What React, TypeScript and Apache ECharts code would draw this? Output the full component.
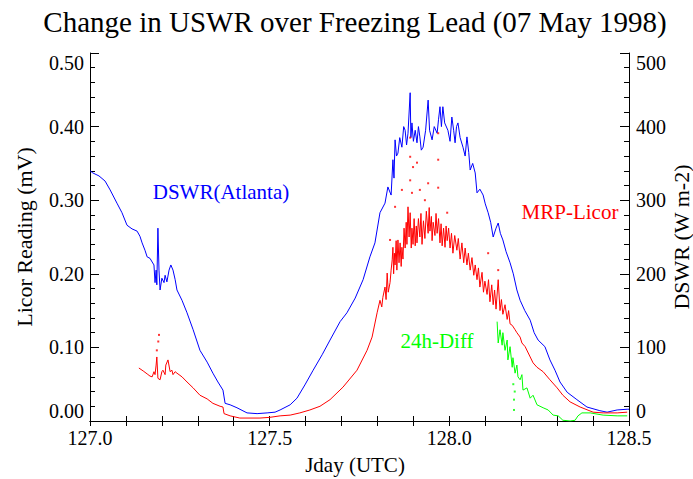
import React, { useEffect, useRef } from "react";
import * as echarts from "echarts";

// Jday (UTC), DSWR Atlanta (W m-2)
const dswrAtlanta: [number, number][] = [
  [127.0, 340], [127.008, 337], [127.025, 333], [127.042, 326], [127.056, 314], [127.075, 296],
  [127.089, 283], [127.103, 266], [127.117, 261], [127.131, 258], [127.139, 251], [127.145, 242],
  [127.153, 232], [127.159, 223], [127.167, 221], [127.173, 216], [127.178, 212], [127.181, 188],
  [127.184, 205], [127.186, 185], [127.189, 262], [127.192, 205], [127.195, 178], [127.2, 194],
  [127.206, 188], [127.209, 198], [127.214, 189], [127.22, 205], [127.225, 212], [127.231, 205],
  [127.237, 192], [127.242, 178], [127.256, 164], [127.27, 147], [127.287, 124], [127.306, 96],
  [127.326, 80], [127.342, 65], [127.356, 53], [127.37, 42], [127.376, 24], [127.39, 22],
  [127.409, 18], [127.437, 11], [127.465, 10], [127.493, 11], [127.515, 12], [127.529, 15],
  [127.557, 22], [127.576, 31], [127.598, 49], [127.621, 69], [127.646, 90], [127.668, 110],
  [127.696, 135], [127.715, 147], [127.738, 167], [127.76, 192], [127.779, 223], [127.793, 242],
  [127.807, 283], [127.821, 296], [127.829, 318], [127.838, 307], [127.843, 355], [127.846, 330],
  [127.849, 382], [127.853, 360], [127.857, 364], [127.862, 385], [127.868, 372], [127.873, 400],
  [127.877, 395], [127.881, 375], [127.885, 391], [127.891, 446], [127.893, 385], [127.896, 405],
  [127.9, 380], [127.905, 395], [127.91, 378], [127.914, 400], [127.918, 386], [127.922, 368],
  [127.927, 372], [127.934, 395], [127.941, 436], [127.945, 395], [127.952, 382], [127.958, 400],
  [127.966, 391], [127.97, 410], [127.974, 427], [127.978, 400], [127.982, 427], [127.987, 405],
  [127.996, 395], [128.002, 380], [128.007, 413], [128.012, 395], [128.016, 378], [128.02, 400],
  [128.024, 405], [128.03, 385], [128.038, 372], [128.044, 360], [128.049, 386], [128.054, 365],
  [128.058, 341], [128.065, 350], [128.072, 337], [128.077, 310], [128.085, 315], [128.094, 307],
  [128.1, 295], [128.108, 283], [128.115, 270], [128.122, 250], [128.13, 262], [128.136, 269],
  [128.142, 255], [128.149, 246], [128.158, 230], [128.169, 215], [128.178, 200], [128.188, 178],
  [128.197, 164], [128.21, 150], [128.225, 137], [128.236, 120], [128.247, 110], [128.266, 101],
  [128.28, 83], [128.294, 69], [128.308, 53], [128.328, 39], [128.355, 29], [128.383, 19],
  [128.419, 14], [128.439, 12], [128.467, 15], [128.495, 16], [128.5, 16],
];

// Jday (UTC), MRP-Licor reading (mV)
const mrpLicor: [number, number][] = [
  [127.136, 0.072], [127.148, 0.068], [127.159, 0.064], [127.167, 0.061], [127.173, 0.06],
  [127.178, 0.067], [127.181, 0.063], [127.184, 0.076], [127.186, 0.087], [127.189, 0.058],
  [127.195, 0.056], [127.2, 0.067], [127.203, 0.069], [127.209, 0.063], [127.211, 0.076],
  [127.217, 0.083], [127.223, 0.067], [127.228, 0.069], [127.231, 0.063], [127.237, 0.067],
  [127.242, 0.065], [127.256, 0.06], [127.27, 0.053], [127.287, 0.045], [127.306, 0.035],
  [127.326, 0.03], [127.342, 0.024], [127.362, 0.02], [127.37, 0.019], [127.373, 0.01],
  [127.39, 0.007], [127.417, 0.004], [127.473, 0.004], [127.501, 0.005], [127.529, 0.007],
  [127.557, 0.008], [127.584, 0.011], [127.612, 0.015], [127.64, 0.02], [127.668, 0.029],
  [127.704, 0.046], [127.743, 0.069], [127.771, 0.096], [127.785, 0.114], [127.799, 0.147],
  [127.807, 0.164], [127.812, 0.155], [127.815, 0.168], [127.821, 0.182], [127.824, 0.165],
  [127.827, 0.201], [127.83, 0.175], [127.835, 0.188], [127.838, 0.205],
  [127.841, 0.219], [127.843, 0.236], [127.845, 0.2], [127.847, 0.228], [127.849, 0.212],
  [127.852, 0.245], [127.854, 0.205], [127.857, 0.246], [127.86, 0.215], [127.863, 0.242],
  [127.866, 0.21], [127.868, 0.236], [127.871, 0.22], [127.874, 0.262], [127.877, 0.235],
  [127.88, 0.27], [127.882, 0.24], [127.885, 0.291], [127.888, 0.25], [127.891, 0.283],
  [127.894, 0.235], [127.896, 0.262], [127.899, 0.24], [127.902, 0.275], [127.905, 0.238],
  [127.908, 0.265], [127.91, 0.242], [127.914, 0.275], [127.918, 0.25], [127.921, 0.282],
  [127.924, 0.24], [127.928, 0.272], [127.932, 0.248], [127.936, 0.285], [127.941, 0.255],
  [127.944, 0.29], [127.946, 0.258], [127.95, 0.278], [127.952, 0.245], [127.955, 0.27],
  [127.96, 0.252], [127.963, 0.282], [127.966, 0.255], [127.97, 0.275], [127.974, 0.242],
  [127.977, 0.268], [127.98, 0.238], [127.984, 0.262], [127.988, 0.236], [127.991, 0.265],
  [127.994, 0.245], [127.998, 0.262], [128.002, 0.235], [128.006, 0.255], [128.01, 0.228],
  [128.015, 0.252], [128.021, 0.232], [128.025, 0.248], [128.03, 0.22], [128.035, 0.242],
  [128.04, 0.215], [128.044, 0.235], [128.049, 0.212], [128.053, 0.228], [128.058, 0.205],
  [128.063, 0.222], [128.068, 0.198], [128.072, 0.212], [128.077, 0.192], [128.081, 0.208],
  [128.085, 0.182], [128.091, 0.202], [128.095, 0.175], [128.099, 0.19], [128.105, 0.172],
  [128.109, 0.192], [128.113, 0.162], [128.118, 0.185], [128.122, 0.158], [128.126, 0.178],
  [128.13, 0.152], [128.136, 0.192], [128.141, 0.15], [128.145, 0.165], [128.149, 0.145],
  [128.155, 0.158], [128.161, 0.138], [128.165, 0.15], [128.169, 0.132], [128.175, 0.13],
  [128.183, 0.124], [128.188, 0.12], [128.197, 0.114], [128.202, 0.106], [128.211, 0.101],
  [128.225, 0.087], [128.233, 0.079], [128.244, 0.073], [128.261, 0.067], [128.28, 0.056],
  [128.3, 0.045], [128.316, 0.035], [128.336, 0.026], [128.364, 0.019], [128.4, 0.012],
  [128.428, 0.011], [128.467, 0.011], [128.495, 0.012],
];

// Isolated MRP-Licor spikes (mV)
const mrpLicorSpikes: [number, number][] = [
  [127.186, 0.096], [127.19, 0.108], [127.192, 0.117], [127.835, 0.246], [127.849, 0.291],
  [127.868, 0.314], [127.891, 0.327], [127.891, 0.359], [127.891, 0.385], [127.896, 0.31],
  [127.899, 0.345], [127.91, 0.351], [127.918, 0.314], [127.932, 0.3], [127.941, 0.323],
  [127.969, 0.317], [127.969, 0.355], [127.969, 0.391], [127.994, 0.283], [128.108, 0.228],
  [128.136, 0.205],
];

// Jday (UTC), 24h difference (mV)
const diff24h: [number, number][] = [
  [128.133, 0.135], [128.136, 0.106], [128.141, 0.124], [128.147, 0.103], [128.149, 0.12],
  [128.155, 0.096], [128.161, 0.11], [128.163, 0.083], [128.169, 0.101], [128.175, 0.073],
  [128.177, 0.086], [128.183, 0.065], [128.188, 0.076], [128.191, 0.06], [128.197, 0.056],
  [128.202, 0.063], [128.205, 0.042], [128.216, 0.045], [128.225, 0.031], [128.233, 0.035],
  [128.244, 0.022], [128.261, 0.018], [128.275, 0.015], [128.289, 0.008], [128.303, 0.007],
  [128.316, 0.001], [128.336, 0.0], [128.35, 0.001], [128.358, 0.007], [128.369, 0.011],
  [128.392, 0.011], [128.428, 0.008], [128.467, 0.007], [128.495, 0.007],
];

const diff24hSpikes: [number, number][] = [
  [128.18, 0.029], [128.18, 0.015], [128.182, 0.04], [128.178, 0.05],
];

const xMin = 127.0;
const xMax = 128.5;
const leftMax = 0.5;
const rightMax = 500;

const FONT = "'Liberation Serif', 'Times New Roman', serif";

export default function App() {
  const ref = useRef<HTMLDivElement>(null);
  useEffect(() => {
    if (!ref.current) return;
    const chart = echarts.init(ref.current, undefined, { renderer: "svg" });
    const axisLine = { show: true, lineStyle: { color: "#000", width: 1 } };
    const opt: any = {
      animation: false,
      backgroundColor: "#fff",
      grid: { left: 90, right: 64, top: 53, bottom: 58 },
      xAxis: [
        {
          type: "value",
          position: "bottom",
          min: xMin,
          max: xMax,
          interval: 0.1,
          axisLine,
          splitLine: { show: false },
          axisTick: { inside: true, length: 5, lineStyle: { color: "#000" } },
          axisLabel: {
            margin: 7,
            color: "#000",
            fontFamily: FONT,
            fontSize: 20,
            showMinLabel: true,
            showMaxLabel: true,
            formatter: (v: number) =>
              Math.abs(v * 2 - Math.round(v * 2)) < 1e-6 ? v.toFixed(1) : "",
          },
        },
        {
          type: "value",
          position: "top",
          min: xMin,
          max: xMax,
          interval: 0.1,
          axisLine,
          splitLine: { show: false },
          axisTick: { inside: true, length: 5, lineStyle: { color: "#000" } },
          axisLabel: { show: false },
        },
      ],
      yAxis: [
        {
          type: "value",
          position: "left",
          min: 0,
          max: leftMax,
          interval: 0.1,
          axisLine,
          splitLine: { show: false },
          axisTick: { inside: true, length: 9, lineStyle: { color: "#000" } },
          minorTick: { show: true, splitNumber: 5, length: 5, lineStyle: { color: "#000" } },
          minorSplitLine: { show: false },
          axisLabel: {
            margin: 6,
            color: "#000",
            fontFamily: FONT,
            fontSize: 20,
            verticalAlignMinLabel: "bottom",
            verticalAlignMaxLabel: "top",
            formatter: (v: number) => v.toFixed(2),
          },
        },
        {
          type: "value",
          position: "right",
          min: 0,
          max: rightMax,
          interval: 100,
          axisLine,
          splitLine: { show: false },
          axisTick: { inside: true, length: 9, lineStyle: { color: "#000" } },
          minorTick: { show: true, splitNumber: 5, length: 5, lineStyle: { color: "#000" } },
          minorSplitLine: { show: false },
          axisLabel: {
            margin: 7,
            color: "#000",
            fontFamily: FONT,
            fontSize: 20,
            verticalAlignMinLabel: "bottom",
            verticalAlignMaxLabel: "top",
          },
        },
      ],
      series: [
        {
          name: "DSWR(Atlanta)",
          type: "line",
          xAxisIndex: 0,
          yAxisIndex: 1,
          data: dswrAtlanta,
          showSymbol: false,
          lineStyle: { color: "#0000ff", width: 1 },
          itemStyle: { color: "#0000ff" },
          z: 3,
        },
        {
          name: "MRP-Licor",
          type: "line",
          xAxisIndex: 0,
          yAxisIndex: 0,
          data: mrpLicor,
          showSymbol: false,
          lineStyle: { color: "#ff0000", width: 1 },
          itemStyle: { color: "#ff0000" },
          z: 4,
        },
        {
          name: "MRP-Licor spikes",
          type: "scatter",
          xAxisIndex: 0,
          yAxisIndex: 0,
          data: mrpLicorSpikes,
          symbol: "rect",
          symbolSize: 2,
          itemStyle: { color: "#ff0000" },
          z: 4,
        },
        {
          name: "24h-Diff",
          type: "line",
          xAxisIndex: 0,
          yAxisIndex: 0,
          data: diff24h,
          showSymbol: false,
          lineStyle: { color: "#00ff00", width: 1 },
          itemStyle: { color: "#00ff00" },
          z: 5,
        },
        {
          name: "24h-Diff spikes",
          type: "scatter",
          xAxisIndex: 0,
          yAxisIndex: 0,
          data: diff24hSpikes,
          symbol: "rect",
          symbolSize: 2,
          itemStyle: { color: "#00ff00" },
          z: 5,
        },
      ],
      graphic: [
        {
          type: "text",
          x: 355,
          y: 22,
          style: {
            text: "Change in USWR over Freezing Lead (07 May 1998)",
            fontFamily: FONT,
            fontSize: 29,
            fill: "#000",
            align: "center",
            verticalAlign: "middle",
          },
        },
        {
          type: "text",
          x: 24,
          y: 237,
          rotation: Math.PI / 2,
          style: {
            text: "Licor Reading (mV)",
            fontFamily: FONT,
            fontSize: 22,
            fill: "#000",
            align: "center",
            verticalAlign: "middle",
          },
        },
        {
          type: "text",
          x: 681,
          y: 237,
          rotation: Math.PI / 2,
          style: {
            text: "DSWR (W m-2)",
            fontFamily: FONT,
            fontSize: 22,
            fill: "#000",
            align: "center",
            verticalAlign: "middle",
          },
        },
        {
          type: "text",
          x: 355,
          y: 465,
          style: {
            text: "Jday (UTC)",
            fontFamily: FONT,
            fontSize: 21,
            fill: "#000",
            align: "center",
            verticalAlign: "middle",
          },
        },
        {
          type: "text",
          x: 221,
          y: 192,
          style: {
            text: "DSWR(Atlanta)",
            fontFamily: FONT,
            fontSize: 21,
            fill: "#0000ff",
            align: "center",
            verticalAlign: "middle",
          },
        },
        {
          type: "text",
          x: 570,
          y: 212,
          style: {
            text: "MRP-Licor",
            fontFamily: FONT,
            fontSize: 21,
            fill: "#ff0000",
            align: "center",
            verticalAlign: "middle",
          },
        },
        {
          type: "text",
          x: 437,
          y: 341,
          style: {
            text: "24h-Diff",
            fontFamily: FONT,
            fontSize: 21,
            fill: "#00ff00",
            align: "center",
            verticalAlign: "middle",
          },
        },
      ],
    };
    chart.setOption(opt);
    return () => chart.dispose();
  }, []);
  return (
    <div
      ref={ref}
      style={{ position: "absolute", left: 0, top: 0, width: 693, height: 479, background: "#fff" }}
    />
  );
}
